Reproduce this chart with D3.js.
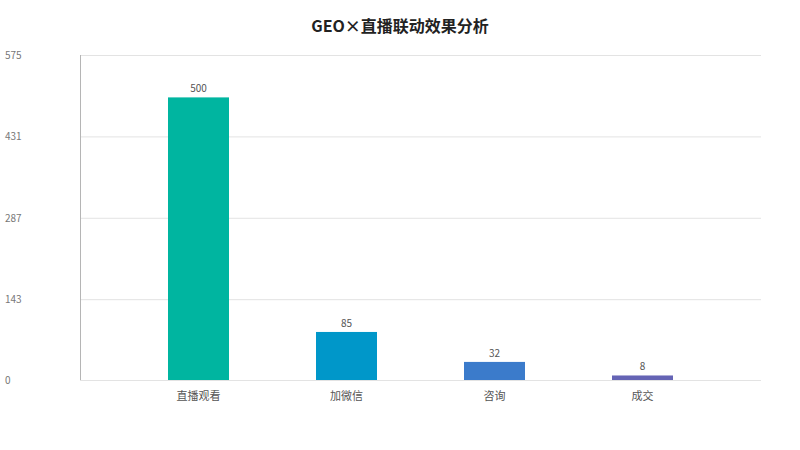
<!DOCTYPE html>
<html>
<head>
<meta charset="utf-8">
<script src="https://cdn.jsdelivr.net/npm/d3@7"></script>
<style>
  body { margin: 0; background: #fff; }
  text { font-family: "Noto Sans CJK SC", "Noto Sans", sans-serif; }
</style>
</head>
<body>
<div id="chart"></div>
<script>
//Chart data
var categories = ["直播观看", "加微信", "咨询", "成交"];
var values = [500, 85, 32, 8];
var barColors = ["#00b5a0", "#0097c9", "#3b7bcb", "#6564b5"];
var yTicks = [0, 143, 287, 431, 575];
var title = "GEO×直播联动效果分析";

//Width and height
var w = 800;
var h = 450;
var plotLeft = 80, plotRight = 761, plotTop = 55, plotBottom = 380;
var barWidth = 61;

var svg = d3.select("#chart")
    .append("svg")
    .attr("width", w)
    .attr("height", h);

var x = d3.scalePoint()
    .domain(categories)
    .range([198.5, 642.5]);

var y = d3.scaleLinear()
    .domain([0, 575])
    .range([plotBottom, plotTop]);

//Title
svg.append("text")
   .attr("x", w / 2)
   .attr("y", 32)
   .attr("text-anchor", "middle")
   .attr("font-size", 16)
   .attr("font-weight", "bold")
   .attr("fill", "#222")
   .text(title);

//Gridlines
svg.selectAll("line.grid")
   .data(yTicks)
   .enter()
   .append("line")
   .attr("class", "grid")
   .attr("x1", plotLeft)
   .attr("x2", plotRight)
   .attr("y1", function(d) { return y(d) + 0.5; })
   .attr("y2", function(d) { return y(d) + 0.5; })
   .attr("stroke", "#e3e3e3")
   .attr("stroke-width", 1);

//Y tick labels
svg.selectAll("text.ytick")
   .data(yTicks)
   .enter()
   .append("text")
   .attr("class", "ytick")
   .attr("x", 5)
   .attr("y", function(d) { return y(d) + 4; })
   .attr("font-size", 10)
   .attr("fill", "#777")
   .text(function(d) { return d; });

//Left axis line
svg.append("line")
   .attr("x1", plotLeft + 0.5)
   .attr("x2", plotLeft + 0.5)
   .attr("y1", plotTop)
   .attr("y2", plotBottom)
   .attr("stroke", "#b5b5b5");

//Bars
svg.selectAll("rect.bar")
   .data(values)
   .enter()
   .append("rect")
   .attr("class", "bar")
   .attr("x", function(d, i) { return x(categories[i]) - barWidth / 2; })
   .attr("y", function(d) { return y(d); })
   .attr("width", barWidth)
   .attr("height", function(d) { return plotBottom - y(d); })
   .attr("fill", function(d, i) { return barColors[i]; });

//Value labels
svg.selectAll("text.val")
   .data(values)
   .enter()
   .append("text")
   .attr("class", "val")
   .attr("x", function(d, i) { return x(categories[i]); })
   .attr("y", function(d) { return y(d) - 5; })
   .attr("text-anchor", "middle")
   .attr("font-size", 10)
   .attr("fill", "#555")
   .text(function(d) { return d; });

//Category labels
svg.selectAll("text.cat")
   .data(categories)
   .enter()
   .append("text")
   .attr("class", "cat")
   .attr("x", function(d) { return x(d); })
   .attr("y", 400)
   .attr("text-anchor", "middle")
   .attr("font-size", 11)
   .attr("fill", "#555")
   .text(function(d) { return d; });
</script>
</body>
</html>
